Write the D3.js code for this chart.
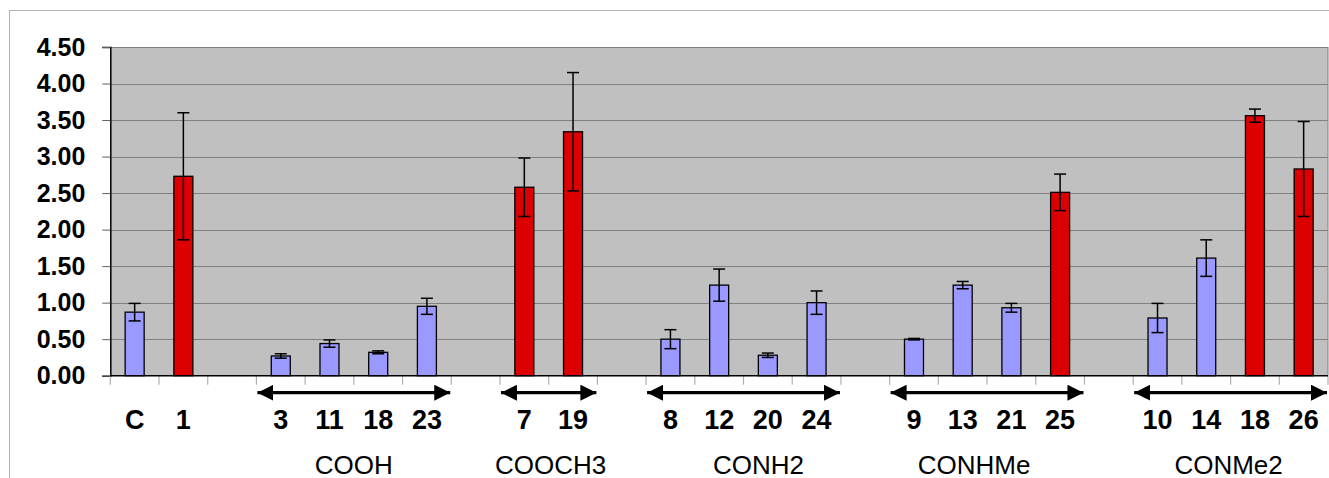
<!DOCTYPE html>
<html>
<head>
<meta charset="utf-8">
<script src="https://cdn.jsdelivr.net/npm/d3@7"></script>
<style>
  body { margin: 0; background: #fff; }
  svg { display: block; font-family: "Liberation Sans", Arial, sans-serif; }
</style>
</head>
<body>
<div id="chart"></div>
<script>
// one slot per category, "" = empty spacer slot
const labels = ["C", "1", "", "3", "11", "18", "23", "", "7", "19", "", "8", "12", "20", "24", "", "9", "13", "21", "25", "", "10", "14", "18", "26"];
const values = [0.87, 2.73, null, 0.27, 0.44, 0.32, 0.95, null, 2.58, 3.34, null, 0.50, 1.24, 0.28, 1.00, null, 0.50, 1.24, 0.93, 2.51, null, 0.79, 1.61, 3.56, 2.83];
const errors = [0.12, 0.87, null, 0.03, 0.05, 0.02, 0.11, null, 0.40, 0.81, null, 0.13, 0.22, 0.03, 0.16, null, 0.01, 0.05, 0.06, 0.25, null, 0.20, 0.25, 0.09, 0.65];
const isRed  = [0, 1, 0, 0, 0, 0, 0, 0, 1, 1, 0, 0, 0, 0, 0, 0, 0, 0, 0, 1, 0, 0, 0, 1, 1];

const groupNames = ["COOH", "COOCH3", "CONH2", "CONHMe", "CONMe2"];
const groupFrom  = [3, 8, 11, 16, 21];
const groupTo    = [6, 9, 14, 19, 24];

const yTicks = [0, 0.5, 1, 1.5, 2, 2.5, 3, 3.5, 4, 4.5];

const width = 1329, height = 478;
const plot = { left: 110.3, right: 1328, top: 47, bottom: 375.7 };

const svg = d3.select("#chart").append("svg")
    .attr("width", width)
    .attr("height", height);

// outer chart frame (cut off on the right and bottom)
svg.append("rect")
    .attr("x", 9.5).attr("y", 10.5)
    .attr("width", width + 20).attr("height", height + 20)
    .attr("fill", "#fff")
    .attr("stroke", "#b4b4b4");

const x = d3.scaleBand()
    .domain(d3.range(labels.length))
    .range([plot.left, plot.right])
    .paddingInner(0).paddingOuter(0);

const y = d3.scaleLinear()
    .domain([0, 4.5])
    .range([plot.bottom, plot.top]);

// plot area
svg.append("rect")
    .attr("x", plot.left).attr("y", plot.top)
    .attr("width", plot.right - plot.left)
    .attr("height", plot.bottom - plot.top)
    .attr("fill", "#c0c0c0");

svg.append("line")
    .attr("x1", plot.right).attr("x2", plot.right)
    .attr("y1", plot.top).attr("y2", plot.bottom)
    .attr("stroke", "#808080");

// gridlines
svg.append("g")
    .selectAll("line")
    .data(yTicks.filter(d => d > 0))
    .enter().append("line")
    .attr("x1", plot.left).attr("x2", plot.right)
    .attr("y1", d => Math.round(y(d)) + 0.5).attr("y2", d => Math.round(y(d)) + 0.5)
    .attr("stroke", "#808080")
    .attr("stroke-width", 1.2);

// y axis
const yAxis = svg.append("g")
    .attr("transform", `translate(${plot.left},0)`)
    .call(d3.axisLeft(y).tickValues(yTicks).tickFormat(d3.format(".2f")).tickSize(8).tickPadding(17));
yAxis.select(".domain").attr("stroke", "#000").attr("stroke-width", 1.5);
yAxis.selectAll(".tick line").attr("stroke", "#606060");
yAxis.selectAll("text")
    .attr("font-size", "25px")
    .attr("font-weight", "bold")
    .attr("font-family", "Liberation Sans, Arial, sans-serif")
    .attr("fill", "#000");

// x tick marks at slot boundaries
svg.append("g")
    .selectAll("line")
    .data(d3.range(labels.length + 1))
    .enter().append("line")
    .attr("x1", d => (d < labels.length ? x(d) : plot.right))
    .attr("x2", d => (d < labels.length ? x(d) : plot.right))
    .attr("y1", plot.bottom).attr("y2", plot.bottom + 9)
    .attr("stroke", "#b0b0b0")
    .attr("stroke-width", 1.2);

// bars
const barW = x.bandwidth() * 0.39;
const idx = d3.range(labels.length).filter(i => values[i] != null);

svg.append("g")
    .selectAll("rect")
    .data(idx)
    .enter().append("rect")
    .attr("x", i => x(i) + x.bandwidth() / 2 - barW / 2)
    .attr("y", i => y(values[i]))
    .attr("width", barW)
    .attr("height", i => y(0) - y(values[i]))
    .attr("fill", i => (isRed[i] ? "#dc0000" : "#9999ff"))
    .attr("stroke", "#000")
    .attr("stroke-width", 1.3);

// x axis line
svg.append("line")
    .attr("x1", plot.left).attr("x2", plot.right)
    .attr("y1", plot.bottom).attr("y2", plot.bottom)
    .attr("stroke", "#000")
    .attr("stroke-width", 1.5);

// error bars
const capW = 12;
const err = svg.append("g").attr("stroke", "#000").attr("stroke-width", 1.5);
idx.forEach(i => {
    const cx = x(i) + x.bandwidth() / 2;
    const hi = y(values[i] + errors[i]);
    const lo = y(values[i] - errors[i]);
    err.append("line").attr("x1", cx).attr("x2", cx).attr("y1", hi).attr("y2", lo);
    err.append("line").attr("x1", cx - capW / 2).attr("x2", cx + capW / 2).attr("y1", hi).attr("y2", hi);
    err.append("line").attr("x1", cx - capW / 2).attr("x2", cx + capW / 2).attr("y1", lo).attr("y2", lo);
});

// category labels
svg.append("g")
    .selectAll("text")
    .data(d3.range(labels.length).filter(i => labels[i] !== ""))
    .enter().append("text")
    .attr("x", i => x(i) + x.bandwidth() / 2)
    .attr("y", 428.5)
    .attr("text-anchor", "middle")
    .attr("font-size", "27px")
    .attr("font-weight", "bold")
    .text(i => labels[i]);

// double-headed arrows under each group
const defs = svg.append("defs");
defs.append("marker")
    .attr("id", "head")
    .attr("viewBox", "0 0 10 10")
    .attr("refX", 10).attr("refY", 5)
    .attr("markerUnits", "userSpaceOnUse")
    .attr("markerWidth", 16).attr("markerHeight", 16)
    .attr("orient", "auto-start-reverse")
    .append("path")
    .attr("d", "M0,0 L10,5 L0,10 Z")
    .attr("fill", "#000");

const arrowY = 392.7;
// label nudges to follow the hand-placed text boxes of the original
const labelShift = [0, 2, 15, -13, -2];

groupNames.forEach((name, g) => {
    const x0 = x(groupFrom[g]);
    const x1 = x(groupTo[g]) + x.bandwidth();
    svg.append("line")
        .attr("x1", x0 + 1).attr("x2", x1 - 1)
        .attr("y1", arrowY).attr("y2", arrowY)
        .attr("stroke", "#000")
        .attr("stroke-width", 3.2)
        .attr("marker-start", "url(#head)")
        .attr("marker-end", "url(#head)");

    svg.append("text")
        .attr("x", (x0 + x1) / 2 + labelShift[g])
        .attr("y", 474)
        .attr("text-anchor", "middle")
        .attr("font-size", "26px")
        .text(name);
});
</script>
</body>
</html>
